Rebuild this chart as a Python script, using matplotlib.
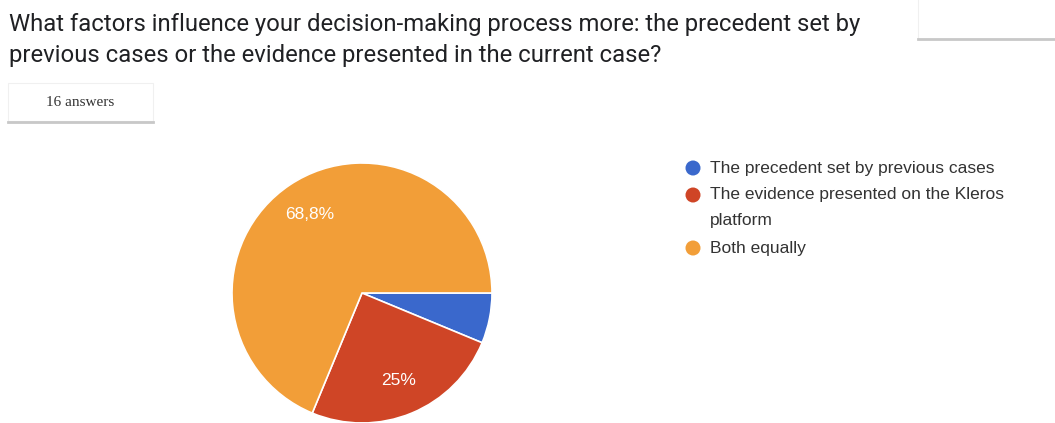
import matplotlib.pyplot as plt
from matplotlib.patches import Rectangle, Circle

W, H = 1055, 423

title_lines = ["What factors influence your decision-making process more: the precedent set by",
               "previous cases or the evidence presented in the current case?"]
answers_label = "16 answers"

labels = ["The precedent set by previous cases",
          "The evidence presented on the Kleros\nplatform",
          "Both equally"]
counts = [1, 4, 11]
colors = ["#3a68cc", "#cf4526", "#f29e38"]


def fmt_pct(p):
    # google forms hides labels on tiny slices, uses comma decimals
    if p < 10:
        return ""
    s = f"{p:.1f}".rstrip("0").rstrip(".")
    return s.replace(".", ",") + "%"


fig = plt.figure(figsize=(W / 100, H / 100), dpi=100)
fig.patch.set_facecolor("white")

# overlay axes in pixel coords for text and boxes
bg = fig.add_axes([0, 0, 1, 1])
bg.set_xlim(0, W)
bg.set_ylim(H, 0)
bg.axis("off")

for i, line in enumerate(title_lines):
    bg.text(9, 31 + i * 31, line, fontsize=17.2, family="Roboto",
            color="#202124", va="baseline", ha="left")

# "16 answers" card with a soft bottom shadow
bg.add_patch(Rectangle((8, 83), 145, 38, facecolor="white", edgecolor="#f0f0f0", lw=0.8))
bg.plot([8, 153], [122, 122], color="#c8c8c8", lw=2)
bg.text(80, 103, answers_label, fontsize=11, family="Liberation Serif",
        color="#333333", ha="center", va="center")

# top right card
bg.add_patch(Rectangle((918, -2), 140, 41, facecolor="white", edgecolor="#f0f0f0", lw=0.8))
bg.plot([918, 1055], [39, 39], color="#c8c8c8", lw=2)

# legend
leg_y = [168, 195, 248]
for lab, col, y in zip(labels, colors, leg_y):
    bg.add_patch(Circle((693, y), 7.5, facecolor=col, edgecolor="none"))
    for j, part in enumerate(lab.split("\n")):
        bg.text(710, y + j * 25, part, fontsize=12.5, family="Liberation Sans",
                color="#333333", ha="left", va="center")

# pie
ax = fig.add_axes([232 / W, 0, 260 / W, 260 / H])
wedges, texts, autotexts = ax.pie(counts, colors=colors, startangle=0, counterclock=False,
                                  autopct=fmt_pct, pctdistance=0.73,
                                  wedgeprops=dict(edgecolor="white", linewidth=1.2))
for t in autotexts:
    t.set_color("white")
    t.set_fontsize(12.5)
    t.set_family("Liberation Sans")
ax.set_xlim(-1, 1)
ax.set_ylim(-1, 1)
ax.set_aspect("equal")

fig.savefig("out.png", dpi=100, facecolor="white")
